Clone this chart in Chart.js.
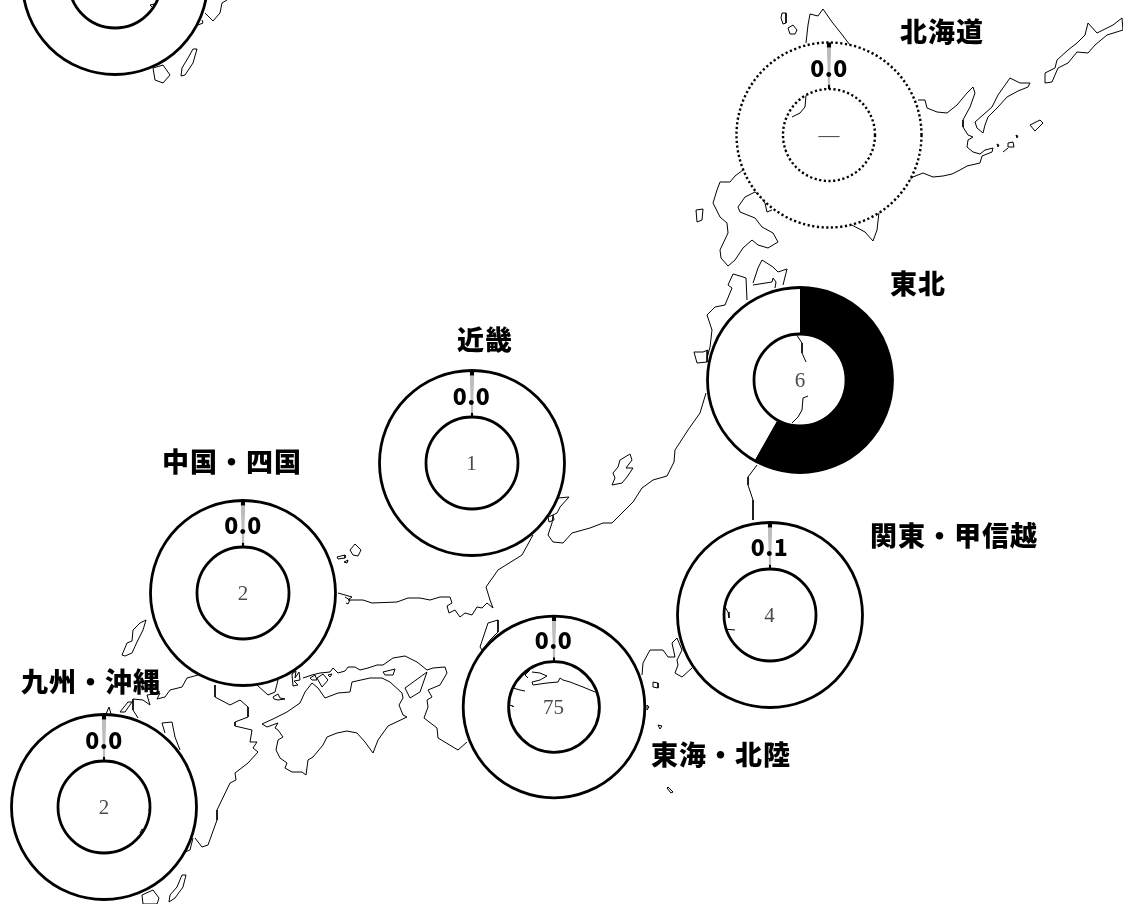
<!DOCTYPE html>
<html lang="ja">
<head>
<meta charset="utf-8">
<title>地域別</title>
<script src="https://cdn.jsdelivr.net/npm/chart.js@4"></script>
<style>
    html, body { margin: 0; padding: 0; background: #fff; }
    #page { position: relative; width: 1123px; height: 904px; overflow: hidden; }
    #page canvas { position: absolute; }
    .tag { position: absolute; transform: translate(-50%, -50%); white-space: nowrap; line-height: 1; }
    .region { font: 900 27px "Noto Sans CJK JP", sans-serif; letter-spacing: 1px; color: #000; }
    .share { font: 900 23px "Noto Sans CJK JP", sans-serif; letter-spacing: 0.5px; color: #000; }
    .count { font: 400 21px "Liberation Serif", serif; color: #4a4a4a; }
</style>
</head>
<body>
<div id="page">
    <canvas id="map" width="1123" height="904"></canvas>
</div>
<script>
// values
const regionNames = ['北海道', '東北', '関東・甲信越', '東海・北陸', '近畿', '中国・四国', '九州・沖縄'];
const regionShares = [0.0, 58.2, 0.1, 0.0, 0.0, 0.0, 0.0];
const shareLabels = ['0.0', '', '0.1', '0.0', '0.0', '0.0', '0.0'];
const countLabels = ['—', '6', '4', '75', '1', '2', '2'];

// map outlines, in picture pixels
const hokkaidoNorth = [[806,43],[808,25],[810,14],[818,16],[823,9],[832,22],[840,32],[850,45]];
const hokkaidoHole = [[806,95],[805,107],[800,113],[792,117]];
const hokkaidoHoleTick = [[785,149],[787,151]];
const hokkaidoEast = [[918,100],[925,100],[927,108],[937,112],[947,113],[957,105],[967,93],[973,87],[975,93],[970,107],[963,120],[963,127],[968,135],[973,137],[968,140],[967,147],[973,152],[980,154],[985,150],[993,148],[992,152],[982,156],[980,163],[967,166],[960,170],[952,174],[943,176],[933,177],[923,173],[913,177],[909,180]];
const hokkaidoSouth = [[850,224],[865,232],[873,241],[877,230],[879,212]];
const oshima = [[743,170],[735,176],[730,182],[720,182],[717,190],[713,203],[720,217],[727,223],[728,233],[720,250],[721,258],[728,266],[735,260],[743,248],[752,240],[758,245],[768,248],[778,242],[773,233],[762,227],[755,218],[740,212],[738,207],[745,197],[755,192],[760,195],[765,203],[767,212],[772,210]];
const rishiri = [[782,13],[786,13],[786,23],[783,24],[781,18],[782,13]];
const rebun = [[788,28],[793,25],[797,30],[795,34],[790,34],[788,28]];
const okushiri = [[696,210],[703,209],[702,220],[697,222],[696,210]];
const kunashiri = [[975,122],[983,115],[992,107],[998,95],[1010,78],[1020,83],[1030,83],[1028,87],[1018,91],[1007,97],[998,107],[988,117],[985,125],[983,133],[977,128],[975,122]];
const etorofu = [[1045,73],[1055,68],[1057,60],[1068,50],[1077,43],[1085,35],[1088,23],[1097,33],[1113,25],[1122,18],[1123,30],[1107,35],[1095,45],[1088,53],[1077,52],[1068,63],[1058,68],[1052,82],[1045,83],[1045,73]];
const shikotan = [[1030,125],[1040,120],[1043,123],[1035,131],[1030,125]];
const habomaiA = [[1008,143],[1013,142],[1014,147],[1008,147],[1008,143]];
const habomaiB = [[1016,135],[1018,136],[1017,138],[1016,135]];
const habomaiC = [[997,144],[999,145],[998,147],[997,144]];
const habomaiD = [[1003,152],[1008,148]];
const shimokita = [[753,283],[758,268],[762,260],[773,267],[778,272],[787,269],[783,285]];
const mutsuBay = [[753,285],[772,282],[773,278],[776,282],[775,288]];
const tsugaru = [[747,300],[746,278],[740,276],[733,274],[728,285],[732,288],[725,305],[715,307],[707,315],[712,330],[710,347],[707,358]];
const oga = [[694,352],[703,352],[708,350],[707,362],[697,363],[694,352]];
const sadoIsland = [[613,473],[618,467],[620,460],[630,454],[632,460],[626,468],[633,468],[627,477],[622,483],[612,485],[615,478],[613,473]];
const tohokuHoleTop = [[796,334],[802,343],[802,353],[806,362]];
const tohokuHoleBottom = [[808,396],[803,398],[802,410],[798,417],[792,423]];
const sanrikuSouth = [[757,465],[748,477],[748,485],[753,500],[753,520]];
const japanSeaCoast = [[706,393],[700,413],[688,430],[675,450],[674,462],[667,476],[653,480],[642,488],[633,502],[622,513],[612,523],[603,523],[590,528],[572,533],[563,543],[553,542],[548,535],[552,523],[553,515],[557,513],[560,507],[569,497],[558,498]];
const notoLagoon = [[548,517],[553,515],[554,520],[549,522],[548,517]];
const sanin = [[533,535],[522,555],[498,570],[486,587],[490,600],[493,608],[487,603],[482,608],[477,607],[472,615],[465,613],[460,617],[455,610],[449,613],[447,606],[452,603],[450,597],[440,597],[430,600],[420,598],[408,598],[397,602],[372,603],[363,600],[348,600],[352,597],[338,593]];
const saninBit = [[345,597],[350,600],[348,604],[346,603]];
const okiA = [[350,550],[355,544],[361,550],[358,556],[353,555],[350,550]];
const okiB = [[337,557],[345,555],[345,558],[338,559],[337,557]];
const okiC = [[344,562],[348,560],[347,563],[344,562]];
const wakasa = [[498,620],[498,632],[490,640],[482,650],[480,647],[488,623],[498,620]];
const ise = [[532,672],[540,673],[547,676],[540,680],[532,682],[533,685],[547,683],[558,682],[560,678],[563,680],[570,682],[583,687],[595,692]];
const iseTop = [[530,670],[525,675],[528,678]];
const iseLow = [[513,688],[520,690],[525,691]];
const iseTick = [[508,705],[513,706],[513,707]];
const kanto = [[642,675],[643,663],[650,650],[663,650],[668,657],[675,657],[672,643],[677,638],[682,650],[677,660],[678,665],[675,673],[682,677],[692,668]];
const kantoHoleA = [[724,605],[728,612],[729,618]];
const kantoHoleB = [[724,629],[735,630]];
const kii = [[467,742],[458,750],[438,738],[437,728],[424,718],[428,707],[427,700],[432,697],[428,690],[440,685],[447,673],[445,667],[433,668],[427,670],[417,662],[405,656],[393,658],[383,665],[377,665],[368,668],[360,670],[355,667],[348,667],[345,671],[338,673],[333,668],[330,672],[320,673],[312,675],[303,678]];
const awaji = [[405,688],[427,672],[420,692],[410,698],[405,688]];
const shodoshima = [[383,672],[395,669],[393,675],[385,675],[383,672]];
const setoA = [[310,678],[315,675],[317,680],[312,680],[310,678]];
const setoB = [[317,678],[323,674],[328,680],[322,687],[317,678]];
const setoC = [[292,674],[296,671],[295,678],[299,672],[300,680],[294,681],[298,685],[293,686],[292,674]];
const setoD = [[328,675],[332,674],[330,677],[328,675]];
const shikoku = [[262,724],[273,719],[287,712],[300,703],[305,692],[312,683],[318,688],[325,698],[338,693],[350,692],[352,682],[370,678],[382,678],[390,682],[402,693],[403,698],[399,705],[403,715],[407,717],[388,726],[378,740],[373,753],[365,742],[357,733],[347,731],[337,733],[327,737],[323,745],[313,757],[308,760],[306,775],[302,772],[292,772],[285,768],[287,763],[280,758],[276,750],[278,740],[283,737],[278,730],[275,728],[278,723],[267,727],[262,724]];
const yamaguchi = [[257,685],[268,695],[275,692],[278,680]];
const yamaguchiTip = [[273,697],[278,694],[280,698],[285,699],[278,700],[274,699],[273,697]];
const kyushuEast = [[215,685],[215,697],[230,705],[240,700],[248,707],[248,717],[235,722],[235,726],[252,730],[250,742],[257,742],[253,748],[258,752],[248,763],[235,773],[236,780],[230,783],[217,810],[217,820],[208,845],[202,847],[195,838]];
const kyushuNorth = [[198,675],[187,678],[182,687],[170,690],[165,697],[157,699],[160,693],[147,695],[150,705],[143,700],[133,699],[133,710],[138,718]];
const kyushuBay = [[162,723],[172,722],[175,737],[180,750]];
const kyushuBayIn = [[162,723],[165,733]];
const kyushuHoleA = [[152,803],[149,810],[152,816]];
const kyushuHoleB = [[140,833],[142,829],[145,831]];
const kyushuTip = [[193,838],[190,850],[185,852]];
const goto = [[120,712],[128,702],[132,702],[125,712],[120,712]];
const hiradoTip = [[106,714],[109,707],[111,714]];
const tsushima = [[133,630],[140,623],[146,620],[143,630],[137,642],[132,653],[125,656],[122,655],[127,643],[132,641],[133,630]];
const tanegashima = [[182,875],[186,875],[183,887],[175,898],[169,902],[170,895],[177,887],[182,875]];
const yakushima = [[142,895],[153,890],[159,898],[157,904],[143,904],[142,895]];
const cropRound = [[153,68],[163,65],[170,75],[163,83],[155,80],[153,68]];
const cropLong = [[193,49],[197,49],[193,63],[185,75],[181,76],[182,68],[188,58],[193,49]];
const cropCoast = [[205,13],[213,21],[220,13],[222,3],[227,0]];
const cropBit = [[202,20],[203,23],[198,25]];
const cropHole = [[150,5],[154,4],[153,8],[150,5]];
const islandA = [[653,682],[658,683],[658,688],[653,687],[653,682]];
const islandB = [[647,705],[649,707],[647,710],[647,705]];
const islandC = [[658,725],[662,726],[660,729],[658,725]];
const islandD = [[668,787],[673,792],[671,793],[667,788],[668,787]];

const mapLines = [
    hokkaidoNorth, hokkaidoHole, hokkaidoHoleTick, hokkaidoEast, hokkaidoSouth, oshima, rishiri, rebun, okushiri,
    kunashiri, etorofu, shikotan, habomaiA, habomaiB, habomaiC, habomaiD, shimokita, mutsuBay, tsugaru, oga,
    sadoIsland, tohokuHoleTop, tohokuHoleBottom, sanrikuSouth, japanSeaCoast, notoLagoon, sanin, saninBit,
    okiA, okiB, okiC, wakasa, ise, iseTop, iseLow, iseTick, kanto, kantoHoleA, kantoHoleB, kii, awaji,
    shodoshima, setoA, setoB, setoC, setoD, shikoku, yamaguchi, yamaguchiTip, kyushuEast, kyushuNorth,
    kyushuBay, kyushuBayIn, kyushuHoleA, kyushuHoleB, kyushuTip, goto, hiradoTip, tsushima, tanegashima,
    yakushima, cropRound, cropLong, cropCoast, cropBit, cropHole, islandA, islandB, islandC, islandD
];

// layout, same order as regionNames
const ringCenters = [[829, 135], [800, 380], [769.5, 614.5], [553.5, 707], [471.5, 463], [243, 592.5], [104, 807]];
const ringOuter = [92.5, 92.5, 92.5, 90.8, 92.5, 92.5, 92.5];
const ringInner = [46, 46, 46, 45.4, 46, 46, 46];
const nameCenters = [[942, 30], [918, 282], [954, 534], [721, 753], [485, 338], [232, 460], [91, 680]];
const croppedRing = [115, -18.5];

const TICK_SHARE = 0.8;

const page = document.getElementById('page');

const addTag = (cls, text, x, y) => {
    const el = document.createElement('div');
    el.className = 'tag ' + cls;
    el.textContent = text;
    el.style.left = x + 'px';
    el.style.top = y + 'px';
    page.appendChild(el);
};

new Chart(document.getElementById('map'), {
    type: 'scatter',
    data: {
        datasets: mapLines.map(line => ({
            data: line.map(([x, y]) => ({ x, y })),
            showLine: true,
            borderColor: '#000',
            borderWidth: 1,
            pointRadius: 0,
            tension: 0
        }))
    },
    options: {
        responsive: false,
        animation: false,
        layout: { padding: 0 },
        plugins: { legend: { display: false }, tooltip: { enabled: false } },
        scales: {
            x: { display: false, type: 'linear', min: 0, max: 1123 },
            y: { display: false, type: 'linear', min: 0, max: 904, reverse: true }
        }
    }
});

// doughnut arcs have no closed outline of their own that ignores the cuts, so stroke it here
const ringOutline = {
    id: 'ringOutline',
    afterDatasetsDraw(chart, args, opts) {
        const first = chart.getDatasetMeta(0).data[0];
        const last = chart.getDatasetMeta(chart.data.datasets.length - 1).data[0];
        const { ctx } = chart;
        ctx.save();
        ctx.strokeStyle = '#000';
        ctx.lineWidth = opts.dotted ? 2.4 : 2.8;
        if (opts.dotted) ctx.setLineDash([2.2, 2.5]);
        [first.outerRadius, last.innerRadius].forEach(r => {
            ctx.beginPath();
            ctx.arc(first.x, first.y, r, 0, Math.PI * 2);
            ctx.stroke();
        });
        ctx.restore();
    }
};

const drawRing = (cx, cy, share, outer, inner, dotted) => {
    const canvas = document.createElement('canvas');
    canvas.width = 200;
    canvas.height = 200;
    canvas.style.left = (cx - 100) + 'px';
    canvas.style.top = (cy - 100) + 'px';
    page.appendChild(canvas);

    let datasets;
    let rotation = 0;
    if (share === null) {
        datasets = [{ data: [100], backgroundColor: ['#fff'], borderWidth: 0 }];
    } else if (share >= 1) {
        datasets = [{ data: [share, 100 - share], backgroundColor: ['#000', '#fff'], borderWidth: 0 }];
    } else {
        // near zero share: only a hairline tick, black at both rims and grey between
        const tick = [TICK_SHARE, 100 - TICK_SHARE];
        rotation = -TICK_SHARE * 1.8;
        datasets = [
            { data: tick, backgroundColor: ['#000', '#fff'], borderWidth: 0, weight: 5 },
            { data: tick, backgroundColor: ['#bdbdbd', '#fff'], borderWidth: 0, weight: 37 },
            { data: tick, backgroundColor: ['#000', '#fff'], borderWidth: 0, weight: 4.5 }
        ];
    }

    new Chart(canvas, {
        type: 'doughnut',
        data: { labels: ['share', 'rest'], datasets },
        options: {
            responsive: false,
            animation: false,
            radius: outer,
            cutout: (inner / outer * 100) + '%',
            rotation,
            layout: { padding: 0 },
            plugins: {
                legend: { display: false },
                tooltip: { enabled: false },
                ringOutline: { dotted }
            }
        },
        plugins: [ringOutline]
    });
};

drawRing(croppedRing[0], croppedRing[1], null, 92.5, 46, false);

regionNames.forEach((name, i) => {
    const [cx, cy] = ringCenters[i];
    drawRing(cx, cy, regionShares[i], ringOuter[i], ringInner[i], countLabels[i] === '—');
    addTag('region', name, nameCenters[i][0], nameCenters[i][1]);
    if (shareLabels[i]) addTag('share', shareLabels[i], cx, cy - 68.5);
    addTag('count', countLabels[i], cx, cy);
});
</script>
</body>
</html>
